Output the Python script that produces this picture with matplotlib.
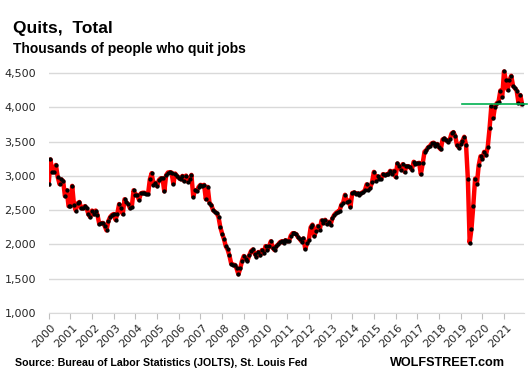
import numpy as np
import matplotlib.pyplot as plt
import matplotlib.transforms as mtransforms
from matplotlib.ticker import FuncFormatter

# Quits, total (thousands), monthly, Dec 2000 .. Oct 2022
quits = [
    2880,  # Dec 2000
    3240, 3055, 3055, 3160, 2985, 2880, 2950, 2925, 2705, 2790, 2560, 2560,  # 2001
    2855, 2580, 2495, 2600, 2620, 2530, 2525, 2560, 2530, 2440, 2400, 2495,  # 2002
    2440, 2495, 2430, 2300, 2310, 2315, 2270, 2205, 2340, 2400, 2430, 2445,  # 2003
    2360, 2450, 2590, 2530, 2445, 2660, 2615, 2590, 2530, 2550, 2790, 2725,  # 2004
    2725, 2650, 2745, 2755, 2755, 2740, 2735, 2950, 3040, 2875, 2900, 2850,  # 2005
    2940, 2965, 2965, 2775, 3010, 3050, 3055, 3050, 2885, 3035, 3000, 2975,  # 2006
    2950, 3000, 2925, 3005, 2915, 2950, 3015, 2700, 2790, 2780, 2840, 2870,  # 2007
    2860, 2870, 2660, 2840, 2610, 2575, 2500, 2478, 2455, 2400, 2250, 2158,  # 2008
    2081, 1976, 1928, 1842, 1722, 1703, 1703, 1650, 1565, 1650, 1761, 1832,  # 2009
    1794, 1761, 1842, 1904, 1928, 1866, 1823, 1890, 1842, 1919, 1871, 1976,  # 2010
    1919, 1976, 2048, 1952, 1919, 1976, 2000, 2033, 2048, 2024, 2062, 2048,  # 2011
    2048, 2130, 2164, 2164, 2150, 2106, 2077, 2043, 2088, 1937, 2019, 2068,  # 2012
    2251, 2290, 2122, 2203, 2270, 2215, 2350, 2320, 2360, 2300, 2330, 2290,  # 2013
    2380, 2430, 2460, 2480, 2495, 2580, 2610, 2725, 2620, 2640, 2545, 2750,  # 2014
    2760, 2740, 2745, 2725, 2750, 2765, 2790, 2878, 2800, 2830, 2912, 3059,  # 2015
    2927, 2995, 2961, 2961, 3025, 3010, 3025, 3025, 3074, 3035, 3074, 2985,  # 2016
    3182, 3142, 3093, 3172, 3059, 3142, 3142, 3123, 3093, 3206, 3172, 3182,  # 2017
    3191, 3025, 3182, 3353, 3377, 3417, 3436, 3475, 3485, 3436, 3466, 3417,  # 2018
    3387, 3532, 3546, 3522, 3498, 3532, 3620, 3639, 3581, 3449, 3414, 3473,  # 2019
    3512, 3571, 3449, 2955, 2026, 2231, 2568, 2960, 2886, 3155, 3287, 3253,  # 2020
    3351, 3302, 3424, 3693, 4021, 3840, 4011, 4060, 4084, 4246, 4148, 4524,  # 2021
    4402, 4255, 4392, 4461, 4314, 4280, 4246, 4070, 4180, 4050,              # 2022
]

year_labels = [str(y) for y in range(2000, 2022)]
y_ticks = [1000, 1500, 2000, 2500, 3000, 3500, 4000, 4500]

# green marker line at the latest level
latest_level = 4050
latest_from, latest_to = 229, 265

fig = plt.figure(figsize=(5.28, 3.79), dpi=100)
ax = fig.add_axes([0.0922, 0.174, 0.900, 0.644])

x = np.arange(len(quits))
ax.plot(x, quits, color='#ff0000', lw=3.2, solid_joinstyle='round', zorder=3)
ax.plot(x, quits, 'o', color='black', ms=2.1, zorder=4)
ax.plot([latest_from, latest_to], [latest_level, latest_level],
        color='#00b050', lw=1.2, zorder=5, clip_on=False)

ax.set_xlim(0, 263)
ax.set_ylim(1000, 4560)
ax.set_yticks(y_ticks)
ax.yaxis.set_major_formatter(FuncFormatter(lambda v, p: f'{int(v):,}'))
ax.grid(axis='y', color='#d9d9d9', lw=1)
ax.set_axisbelow(True)
for s in ['top', 'right', 'left']:
    ax.spines[s].set_visible(False)
ax.spines['bottom'].set_color('#d9d9d9')
ax.tick_params(axis='y', length=0, pad=9, labelsize=8, labelcolor='#262626')

ax.set_xticks(np.arange(0, 12 * len(year_labels), 12))
ax.set_xticklabels(year_labels, rotation=45, ha='right', va='center',
                   rotation_mode='anchor')
ax.tick_params(axis='x', length=4, color='#bfbfbf', labelsize=8,
               labelcolor='#262626', pad=5)
# nudge the rotated labels a little to the right
shift = mtransforms.ScaledTranslation(4 / 72, 0, fig.dpi_scale_trans)
for lbl in ax.get_xticklabels():
    lbl.set_transform(lbl.get_transform() + shift)

bold = dict(family='Liberation Sans', fontweight='bold', color='black')
fig.text(13 / 528, 1 - 32.7 / 379, 'Quits,  Total', fontsize=12.5,
         va='baseline', **bold)
fig.text(13 / 528, 1 - 53.3 / 379, 'Thousands of people who quit jobs',
         fontsize=10, va='baseline', **bold)
fig.text(15 / 528, 1 - 366 / 379,
         'Source: Bureau of Labor Statistics (JOLTS), St. Louis Fed',
         fontsize=7.7, va='baseline', **bold)
fig.text(505 / 528, 1 - 366 / 379, 'WOLFSTREET.com', fontsize=9.1,
         ha='right', va='baseline', **bold)

fig.savefig('out.png', dpi=100)
